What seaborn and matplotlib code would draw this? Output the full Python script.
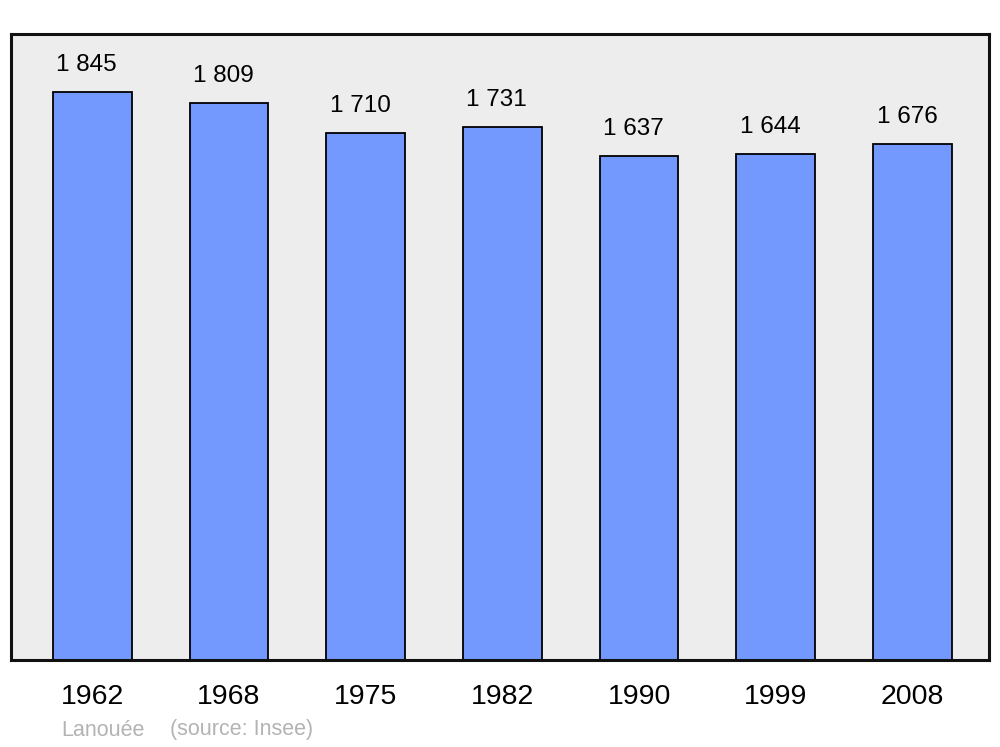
import matplotlib
matplotlib.use("Agg")
import matplotlib.pyplot as plt
import seaborn as sns
import pandas as pd

years = ["1962", "1968", "1975", "1982", "1990", "1999", "2008"]
population = [1845, 1809, 1710, 1731, 1637, 1644, 1676]
value_labels = ["1 845", "1 809", "1 710", "1 731", "1 637", "1 644", "1 676"]
commune = "Lanouée"
source = "(source: Insee)"

sns.set_theme(style="white")
plt.rcParams['font.family'] = ['Liberation Sans', 'DejaVu Sans']

df = pd.DataFrame({"year": years, "population": population})

fig = plt.figure(figsize=(10, 7.47), dpi=100)
ax = fig.add_axes([0.011, 87 / 747, 0.978, 626 / 747])
ax.set_facecolor("#ededed")

sns.barplot(data=df, x="year", y="population", color="#7399ff", saturation=1,
            edgecolor="black", linewidth=1.3, width=0.575, ax=ax)

ax.set_xlim(-0.595, 6.56)
ax.set_ylim(0, 2033)

for i, (v, lab) in enumerate(zip(population, value_labels)):
    ax.annotate(lab, xy=(i, v), xytext=(-4, 19.5), textcoords="offset points",
                ha="center", va="center", fontsize=17.5, color="black")

ax.set_yticks([])
ax.set_xlabel("")
ax.set_ylabel("")
ax.tick_params(axis="x", length=0, pad=17, labelsize=20.5, colors="black")
for lbl in ax.get_xticklabels():
    lbl.set_x(lbl.get_position()[0])

for s in ax.spines.values():
    s.set_linewidth(2.2)
    s.set_color("#111111")
    s.set_visible(True)

fig.text(61 / 1000, 1 - 730 / 747, commune, fontsize=15.5, color="#b3b3b3",
         ha="left", va="center")
fig.text(170 / 1000, 1 - 730 / 747, source, fontsize=15.5, color="#b3b3b3",
         ha="left", va="center")

fig.savefig("out.png", dpi=100, facecolor="white")
